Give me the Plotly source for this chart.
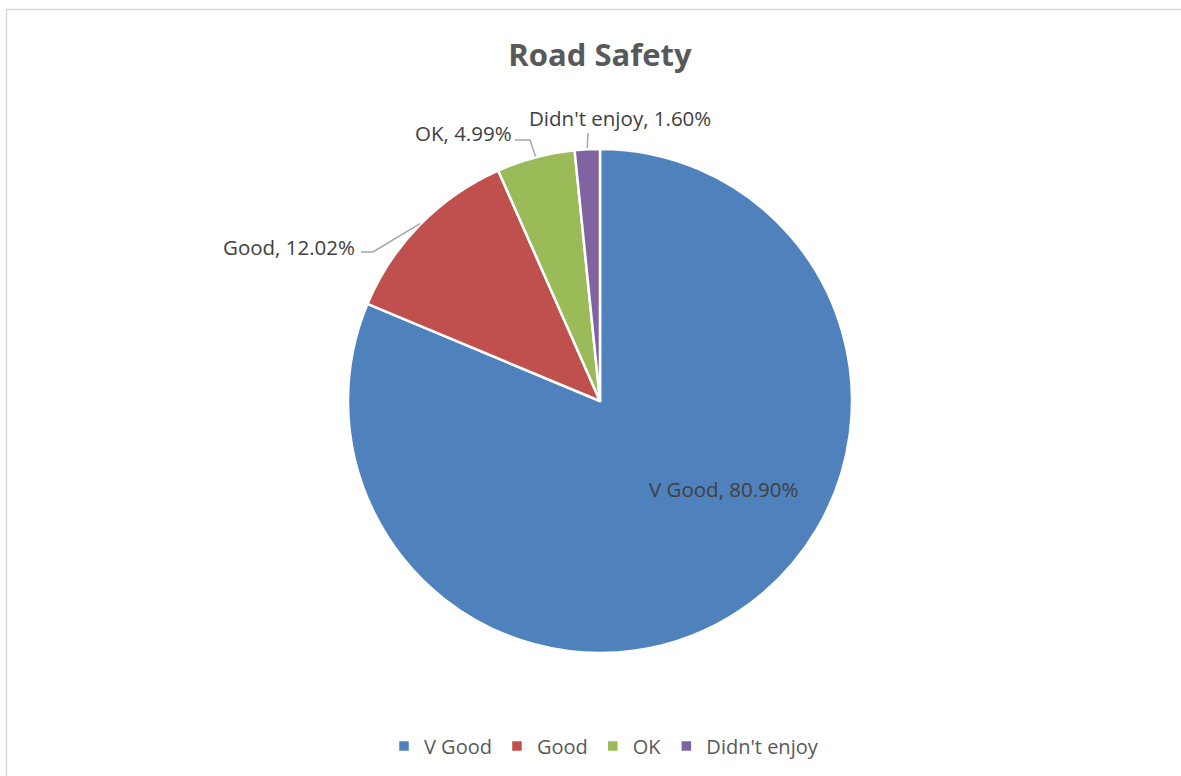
import math
import plotly.graph_objects as go

categories = ["V Good", "Good", "OK", "Didn't enjoy"]
values = [80.90, 12.02, 4.99, 1.60]
colors = ["#4F81BD", "#C0504D", "#9BBB59", "#8064A2"]

W, H = 1181, 776
cx, cy, r = 600, 401, 252
FONT = "Open Sans, Liberation Sans, sans-serif"

# label placement (pixels) -- layout only
label_pos = [(724, 489), (289, 247), (464, 133), (620, 118)]
# elbow point of leader lines (pixels), None = straight
elbows = [None, (373, 252), (530, 140), None]
starts = [None, (361, 252), (515, 140), (588, 133)]


def px(x):
    return x / W


def py(y):
    return 1 - y / H


fig = go.Figure(go.Pie(
    labels=categories,
    values=values,
    sort=False,
    direction="clockwise",
    rotation=0,
    marker=dict(colors=colors, line=dict(color="white", width=2.5)),
    textinfo="none",
    domain=dict(x=[px(cx - r), px(cx + r)], y=[py(cy + r), py(cy - r)]),
    hoverinfo="label+value",
))

annotations = []
shapes = [dict(type="rect", xref="paper", yref="paper", x0=px(6.5), x1=1.2, y0=-0.2, y1=py(9.5),
               line=dict(color="#D9D9D9", width=1.5), fillcolor="rgba(0,0,0,0)", layer="below")]

total = sum(values)
cum = 0.0
for i, (cat, v) in enumerate(zip(categories, values)):
    mid = (cum + v / 2) / total * 2 * math.pi
    cum += v
    lx, ly = label_pos[i]
    annotations.append(dict(
        x=px(lx), y=py(ly), xref="paper", yref="paper",
        text=f"{cat}, {v:.2f}%", showarrow=False,
        font=dict(family=FONT, size=20.5, color="#404040"),
        xanchor="center", yanchor="middle"))
    if starts[i] is not None:
        ex = cx + r * math.sin(mid)
        ey = cy - r * math.cos(mid)
        pts = [starts[i]]
        if elbows[i] is not None:
            pts.append(elbows[i])
        pts.append((ex, ey - 1))
        path = "M " + " L ".join(f"{px(a):.5f},{py(b):.5f}" for a, b in pts)
        shapes.append(dict(type="path", xref="paper", yref="paper", path=path,
                           line=dict(color="#A6A6A6", width=1.5)))

fig.update_layout(
    width=W, height=H,
    margin=dict(l=0, r=0, t=0, b=0),
    paper_bgcolor="white",
    title=dict(text="<b>Road Safety</b>", x=px(600), xanchor="center", y=py(55), yanchor="middle",
               font=dict(family=FONT, size=31, color="#595959")),
    legend=dict(orientation="h", x=px(604), xanchor="center", y=py(746), yanchor="middle",
                font=dict(family=FONT, size=20, color="#595959"),
                traceorder="normal"),
    shapes=shapes,
    annotations=annotations,
)

fig.write_html("out.html", config={"displayModeBar": False},
               post_script="document.body.style.margin='0';document.body.style.overflow='hidden';")
